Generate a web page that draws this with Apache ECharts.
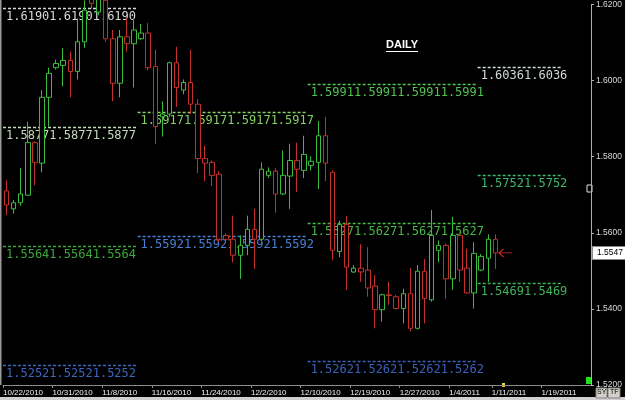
<!DOCTYPE html>
<html>
<head>
<meta charset="utf-8">
<script src="https://cdn.jsdelivr.net/npm/echarts@6/dist/echarts.min.js"></script>
<style>
html, body { margin: 0; padding: 0; background: #000; }
#chart { width: 625px; height: 400px; }
</style>
</head>
<body>
<div id="chart"></div>
<script>
// 日线蜡烛图 + 各周期枢轴线
var dates = [
    '10/22/2010','10/24/2010','10/25/2010','10/26/2010','10/27/2010','10/28/2010','10/29/2010',
    '10/31/2010','11/1/2010','11/2/2010','11/3/2010','11/4/2010','11/5/2010','11/7/2010',
    '11/8/2010','11/9/2010','11/10/2010','11/11/2010','11/12/2010','11/14/2010','11/15/2010',
    '11/16/2010','11/17/2010','11/18/2010','11/19/2010','11/21/2010','11/22/2010','11/23/2010',
    '11/24/2010','11/25/2010','11/26/2010','11/28/2010','11/29/2010','11/30/2010','12/1/2010',
    '12/2/2010','12/3/2010','12/5/2010','12/6/2010','12/7/2010','12/8/2010','12/9/2010',
    '12/10/2010','12/12/2010','12/13/2010','12/14/2010','12/15/2010','12/16/2010','12/17/2010',
    '12/19/2010','12/20/2010','12/21/2010','12/22/2010','12/23/2010','12/24/2010','12/26/2010',
    '12/27/2010','12/28/2010','12/29/2010','12/30/2010','12/31/2010','1/2/2011','1/3/2011',
    '1/4/2011','1/5/2011','1/6/2011','1/7/2011','1/9/2011','1/10/2011',
    '1/11/2011','1/12/2011','1/13/2011','1/14/2011','1/16/2011','1/17/2011','1/18/2011',
    '1/19/2011','1/20/2011','1/21/2011','1/23/2011','1/24/2011','1/25/2011','1/26/2011'
];
// 日期标签所在的位置
var labelIdx = [0, 7, 14, 21, 28, 35, 42, 49, 56, 63, 69, 76];

var opens = [1.5710,1.5663,1.5679,1.5699,1.5837,1.5783,1.5956,1.6034,1.6040,1.6053,
    1.6024,1.6102,1.6250,1.6180,1.6211,1.6110,1.5993,1.6115,1.6097,1.6110,
    1.6125,1.6037,1.5905,1.5912,1.6047,1.5975,1.5995,1.5938,1.5795,1.5785,
    1.5754,1.5593,1.5583,1.5541,1.5567,1.5609,1.5583,1.5751,1.5762,1.5702,
    1.5749,1.5790,1.5764,1.5777,1.5785,1.5855,1.5759,1.5551,1.5622,1.5497,
    1.5507,1.5502,1.5460,1.5398,1.5437,1.5432,1.5401,1.5440,1.5349,1.5499,
    1.5424,1.5554,1.5567,1.5479,1.5593,1.5507,1.5442,1.5502,1.5533,1.5583];
var closes = [1.5673,1.5679,1.5702,1.5837,1.5785,1.5956,1.6019,1.6045,1.6053,1.6024,
    1.6102,1.6185,1.6203,1.6229,1.6110,1.5993,1.6115,1.6097,1.6133,1.6125,
    1.6034,1.5879,1.5912,1.6047,1.5982,1.5995,1.5938,1.5795,1.5783,1.5751,
    1.5583,1.5583,1.5541,1.5567,1.5609,1.5583,1.5767,1.5762,1.5702,1.5751,
    1.5790,1.5767,1.5806,1.5788,1.5855,1.5783,1.5554,1.5622,1.5510,1.5507,
    1.5497,1.5455,1.5398,1.5437,1.5435,1.5401,1.5440,1.5349,1.5499,1.5427,
    1.5593,1.5567,1.5479,1.5593,1.5502,1.5442,1.5546,1.5538,1.5583,1.5547];
var lows = [1.5647,1.5650,1.5671,1.5697,1.5725,1.5759,1.5879,1.6029,1.5985,1.5956,
    1.6003,1.6086,1.6190,1.6172,1.6102,1.5946,1.5956,1.6076,1.5982,1.6107,
    1.6027,1.5834,1.5853,1.5905,1.5931,1.5964,1.5912,1.5757,1.5736,1.5723,
    1.5575,1.5580,1.5523,1.5479,1.5541,1.5505,1.5580,1.5744,1.5653,1.5699,
    1.5663,1.5707,1.5744,1.5764,1.5715,1.5736,1.5528,1.5536,1.5450,1.5494,
    1.5471,1.5432,1.5349,1.5367,1.5411,1.5398,1.5362,1.5341,1.5346,1.5362,
    1.5419,1.5523,1.5427,1.5450,1.5471,1.5440,1.5401,1.5499,1.5471,1.5505];
var highs = [1.5738,1.5686,1.5770,1.5892,1.5840,1.5975,1.6034,1.6055,1.6086,1.6076,
    1.6164,1.6211,1.6271,1.6250,1.6237,1.6133,1.6133,1.6164,1.6159,1.6149,
    1.6151,1.6081,1.5946,1.6050,1.6089,1.6003,1.6081,1.5951,1.5829,1.5790,
    1.5762,1.5598,1.5645,1.5593,1.5645,1.5663,1.5785,1.5772,1.5770,1.5816,
    1.5834,1.5837,1.5855,1.5801,1.5894,1.5905,1.5764,1.5632,1.5645,1.5515,
    1.5570,1.5562,1.5489,1.5440,1.5471,1.5437,1.5453,1.5507,1.5515,1.5531,
    1.5660,1.5580,1.5572,1.5642,1.5601,1.5559,1.5575,1.5544,1.5596,1.5596];

// 枢轴线：价格、起止K线序号
var levelPrices = [1.6190, 1.5877, 1.5564, 1.5252, 1.5917, 1.5592, 1.5991, 1.5627, 1.5262, 1.6036, 1.5752, 1.5469];
var levelFrom = [0, 0, 0, 0, 19, 19, 43, 43, 43, 67, 67, 67];
var levelTo = [18, 18, 18, 18, 42, 42, 66, 66, 66, 78, 78, 78];
// 线的颜色
var levelColors = ['#d8d8d8', '#c4dcbc', '#3aa83a', '#3d66c0', '#84d064', '#4a80d4',
    '#52c452', '#45b845', '#3a62bc', '#d0dcd4', '#3cbc6a', '#3cb45a'];

var candleData = [];
for (var i = 0; i < opens.length; i++) {
    candleData.push([opens[i], closes[i], lows[i], highs[i]]);
}
var levelData = [];
for (var k = 0; k < levelPrices.length; k++) {
    levelData.push([levelFrom[k], levelTo[k], levelPrices[k]]);
}
var lastClose = closes[closes.length - 1];

function showLabel(idx) {
    return labelIdx.indexOf(idx) >= 0;
}

function renderLevel(params, api) {
    var s = api.coord([api.value(0), api.value(2)]);
    var e = api.coord([api.value(1), api.value(2)]);
    var half = api.size([1, 0])[0] / 2;
    var x0 = s[0] - half, x1 = e[0] + half, y = Math.round(s[1]) + 0.5;
    var c = levelColors[params.dataIndex];
    var txt = api.value(2).toFixed(4);
    // 价格文字按线段长度重复
    var reps = Math.max(1, Math.round((x1 - x0) / (txt.length * 7.2)));
    var full = '';
    for (var r = 0; r < reps; r++) full += txt;
    return {
        type: 'group',
        children: [
            {type: 'line', shape: {x1: x0, y1: y, x2: x1, y2: y},
             style: {stroke: c, lineWidth: 1.5, lineDash: [3, 2]}},
            {type: 'text', x: x0 + 3, y: y + 2,
             style: {text: full, fill: c, font: '12px "DejaVu Sans Mono"', verticalAlign: 'top', align: 'left'}}
        ]
    };
}

var chart = echarts.init(document.getElementById('chart'));
var option = {
    backgroundColor: '#000',
    animation: false,
    grid: {left: 0, right: 33, top: 0, bottom: 15},
    xAxis: [
        {   // K线用
            type: 'category',
            data: dates,
            boundaryGap: true,
            position: 'bottom',
            show: false
        },
        {   // 日期标签用（落在K线左边界）
            type: 'category',
            data: dates.concat(['']),
            boundaryGap: false,
            position: 'bottom',
            axisLine: {show: true, lineStyle: {color: '#8c8c8c', width: 1}},
            axisTick: {show: true, interval: function (i) { return showLabel(i); }, length: 3, lineStyle: {color: '#8c8c8c'}},
            axisLabel: {
                interval: function (i) { return showLabel(i); },
                align: 'left',
                margin: 4,
                color: '#f0f0f0',
                fontSize: 8,
                fontFamily: '"Liberation Sans Narrow", "Liberation Sans", Arial'
            },
            splitLine: {show: false}
        }
    ],
    yAxis: {
        type: 'value',
        position: 'right',
        min: 1.52,
        max: 1.62,
        interval: 0.02,
        axisLine: {show: true, lineStyle: {color: '#b0b0b0'}},
        axisTick: {show: true, length: 3, lineStyle: {color: '#b0b0b0'}},
        axisLabel: {
            color: '#d8d8d8',
            fontSize: 8.5,
            margin: 5,
            fontFamily: '"Liberation Sans Narrow", "Liberation Sans", Arial',
            formatter: function (v) { return v.toFixed(4); }
        },
        splitLine: {show: false}
    },
    series: [
        {
            name: 'levels',
            type: 'custom',
            xAxisIndex: 0,
            renderItem: renderLevel,
            encode: {x: [0, 1], y: 2},
            data: levelData,
            silent: true,
            z: 1
        },
        {
            name: 'GBPUSD',
            type: 'candlestick',
            xAxisIndex: 0,
            data: candleData,
            barWidth: 5,
            itemStyle: {
                color: '#000',
                color0: '#000',
                borderColor: '#3cbc3c',
                borderColor0: '#c4302c',
                borderWidth: 1
            },
            z: 3,
            markLine: {
                silent: true,
                precision: 4,
                symbol: ['none', 'none'],
                lineStyle: {color: 'rgba(0,0,0,0)', width: 0},
                label: {
                    show: true,
                    position: 'end',
                    distance: 2,
                    formatter: function (p) { return Number(p.value).toFixed(4); },
                    backgroundColor: '#fff',
                    borderColor: '#888',
                    borderWidth: 1,
                    color: '#000',
                    fontSize: 8.5,
                    fontFamily: '"Liberation Sans Narrow", "Liberation Sans", Arial',
                    padding: [2, 4, 1, 4]
                },
                emphasis: {disabled: true},
                data: [{yAxis: lastClose}]
            },
            markPoint: {
                silent: true,
                symbol: 'path://M0,4L5,0M0,4L5,8M0,4L14,4',
                symbolSize: [13, 8],
                symbolOffset: [10, 0],
                itemStyle: {color: 'rgba(0,0,0,0)', borderColor: '#e03030', borderWidth: 1},
                label: {show: false},
                data: [{coord: [dates[closes.length - 1], lastClose]}]
            }
        }
    ],
    graphic: [
        {type: 'text', left: 386, top: 39,
         style: {text: 'DAILY', fill: '#ffffff', font: 'bold 11px "Liberation Sans"'}},
        {type: 'line', shape: {x1: 386, y1: 51.5, x2: 418, y2: 51.5}, style: {stroke: '#ffffff', lineWidth: 1}},
        {type: 'line', shape: {x1: 0.75, y1: 0, x2: 0.75, y2: 385}, style: {stroke: '#9a9a9a', lineWidth: 1.5}},
        {type: 'rect', shape: {x: 587, y: 185, width: 5, height: 7}, style: {fill: '#000', stroke: '#e0e0e0', lineWidth: 1}},
        {type: 'rect', shape: {x: 586, y: 377, width: 6, height: 7}, style: {fill: '#22dd22'}},
        {type: 'rect', shape: {x: 502, y: 383, width: 3, height: 4}, style: {fill: '#e8e040'}},
        {type: 'rect', shape: {x: 0, y: 397, width: 625, height: 3}, style: {fill: '#cfcfcf'}},
        {type: 'rect', shape: {x: 596, y: 388, width: 11, height: 10}, style: {fill: '#d4d0c8', stroke: '#808080', lineWidth: 1}},
        {type: 'rect', shape: {x: 608, y: 388, width: 12, height: 10}, style: {fill: '#d4d0c8', stroke: '#808080', lineWidth: 1}},
        {type: 'text', left: 597, top: 389, style: {text: 'SY', fill: '#000', font: '7px "Liberation Sans"'}},
        {type: 'text', left: 610, top: 389, style: {text: 'TF', fill: '#000', font: '7px "Liberation Sans"'}}
    ]
};
chart.setOption(option);
</script>
</body>
</html>
